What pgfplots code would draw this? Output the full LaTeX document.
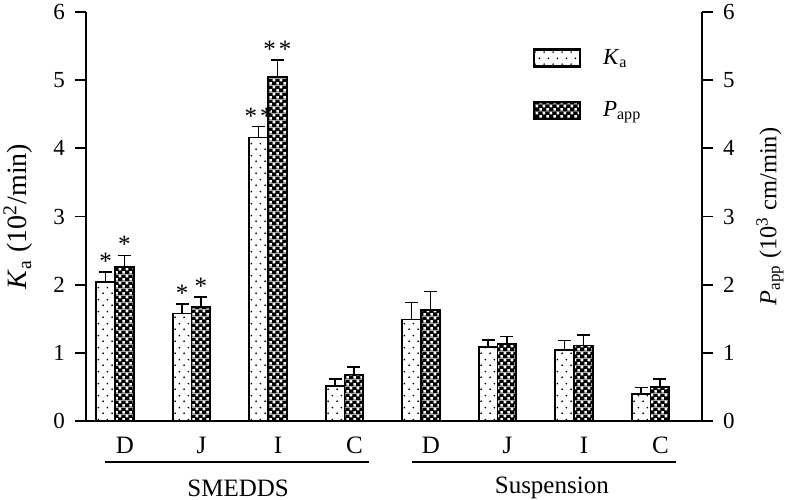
\documentclass[border=0pt]{standalone}
\usepackage{fontspec}
\setmainfont{Liberation Serif}
\usepackage{pgfplots}
\usepackage{pgfplotstable}
\pgfplotsset{compat=1.18}
\usetikzlibrary{patterns.meta}

\pgfdeclarepattern{
  name=kadots,
  type=colored,
  bottom left={\pgfpointorigin},
  top right={\pgfpoint{4.6pt}{6pt}},
  tile size={\pgfpoint{4.6pt}{6pt}},
  code={
    \pgfsetfillcolor{black}
    \pgfpathcircle{\pgfpoint{1.15pt}{1.5pt}}{0.5pt}
    \pgfpathcircle{\pgfpoint{3.45pt}{4.5pt}}{0.5pt}
    \pgfusepath{fill}
  }
}
\pgfdeclarepattern{
  name=checker,
  type=colored,
  bottom left={\pgfpointorigin},
  top right={\pgfpoint{3.6pt}{3.6pt}},
  tile size={\pgfpoint{3.6pt}{3.6pt}},
  code={
    \pgfsetfillcolor{black}
    \pgfpathrectangle{\pgfpointorigin}{\pgfpoint{3.6pt}{3.6pt}}
    \pgfusepath{fill}
    \pgfsetfillcolor{white}
    \pgfpathrectangle{\pgfpoint{0.25pt}{0.25pt}}{\pgfpoint{1.3pt}{1.3pt}}
    \pgfpathrectangle{\pgfpoint{2.05pt}{2.05pt}}{\pgfpoint{1.3pt}{1.3pt}}
    \pgfusepath{fill}
  }
}

\pgfplotstableread{
x Ka Kaerr Papp Papperr
0 2.04 0.15 2.26 0.17
1 1.58 0.14 1.67 0.15
2 4.16 0.16 5.05 0.25
3 0.51 0.11 0.68 0.11
4 1.49 0.25 1.63 0.27
5 1.09 0.10 1.13 0.11
6 1.04 0.14 1.11 0.15
7 0.40 0.09 0.50 0.12
}\datatable

\pgfplotsset{
  common/.style={
    scale only axis,
    width=308pt, height=204.5pt,
    xmin=-0.379, xmax=7.673,
    ymin=0, ymax=6,
    axis line style={line width=1pt},
    ytick={0,1,2,3,4,5,6},
    tick align=outside,
    major tick length=5.5pt,
    tick style={line width=0.9pt, black},
    /pgf/number format/assume math mode=true,
    yticklabel style={font=\fontsize{11.5}{13}\selectfont},
  },
}

\begin{document}
\begin{tikzpicture}[font=\fontsize{12.5}{14}\selectfont]
\begin{axis}[
  common,
  name=ax,
  axis x line*=bottom,
  axis y line*=left,
  yticklabel style={xshift=-1.5pt},
  xtick={0.13,1.13,2.13,3.13,4.13,5.13,6.13,7.13},
  xticklabels={D,J,I,C,D,J,I,C},
  x tick style={draw=none},
  xticklabel style={yshift=1pt},
  ylabel={\textit{K}\textsubscript{a} (10\textsuperscript{2}/min)},
  every axis y label/.style={at={(axis description cs:0,0.5)}, anchor=center, rotate=90, yshift=34pt, font=\fontsize{14}{16}\selectfont},
  ybar=0pt,
  bar width=0.245,
  clip=false,
  legend style={draw=none, fill=none, at={(0.715,0.93)}, anchor=north west,
    row sep=13pt, font=\fontsize{11.5}{13}\selectfont},
  legend cell align=left,
  legend image code/.code={
    \draw[#1, line width=1.1pt] (0pt,-4.25pt) rectangle (23pt,4.25pt);
  },
]
\addplot[draw=black, line width=0.8pt, pattern={kadots},
  error bars/.cd, y dir=plus, y explicit,
  error bar style={line width=0.8pt, black},
  error mark options={rotate=90, mark size=3.3pt, line width=0.8pt, black}]
  table[x=x, y=Ka, y error=Kaerr] {\datatable};
\addlegendentry{\hspace{9pt}\textit{K}\textsubscript{a}}
\addplot[draw=black, line width=0.8pt, pattern={checker},
  error bars/.cd, y dir=plus, y explicit,
  error bar style={line width=0.8pt, black},
  error mark options={rotate=90, mark size=3.3pt, line width=0.8pt, black}]
  table[x=x, y=Papp, y error=Papperr] {\datatable};
\addlegendentry{\hspace{9pt}\textit{P}\textsubscript{app}}

% significance marks
\node[anchor=south, inner sep=1pt] at (axis cs:-0.1225,2.19) {*};
\node[anchor=south, inner sep=1pt] at (axis cs:0.1225,2.43) {*};
\node[anchor=south, inner sep=1pt] at (axis cs:0.8775,1.72) {*};
\node[anchor=south, inner sep=1pt] at (axis cs:1.1225,1.82) {*};
\node[anchor=south, inner sep=1pt] at (axis cs:1.8775,4.32) {*\kern1.5pt*};
\node[anchor=south, inner sep=1pt] at (axis cs:2.1225,5.30) {*\kern1.5pt*};

% group lines and labels
\draw[line width=1pt] ([yshift=-20.5pt]axis cs:-0.13,0) -- ([yshift=-20.5pt]axis cs:3.32,0);
\draw[line width=1pt] ([yshift=-20.5pt]axis cs:3.88,0) -- ([yshift=-20.5pt]axis cs:7.33,0);
\node at ([yshift=-33.5pt]axis cs:1.61,0) {SMEDDS};
\node at ([yshift=-33.5pt]axis cs:5.71,0) {Suspension};
\end{axis}
\begin{axis}[
  common,
  axis x line=none,
  axis y line*=right,
  yticklabel style={xshift=1.5pt},
  ylabel={\textit{P}\textsubscript{app} (10\textsuperscript{3} cm/min)},
  every axis y label/.style={at={(axis description cs:1,0.5)}, anchor=center, rotate=90, yshift=-34pt, font=\fontsize{12.2}{14}\selectfont},
]
\addplot[draw=none] coordinates {(0,0)};
\end{axis}
\pgfresetboundingbox
\path[use as bounding box] ([xshift=-43pt,yshift=-39pt]ax.south west) rectangle ++(395.5pt,249.5pt);
\end{tikzpicture}
\end{document}
